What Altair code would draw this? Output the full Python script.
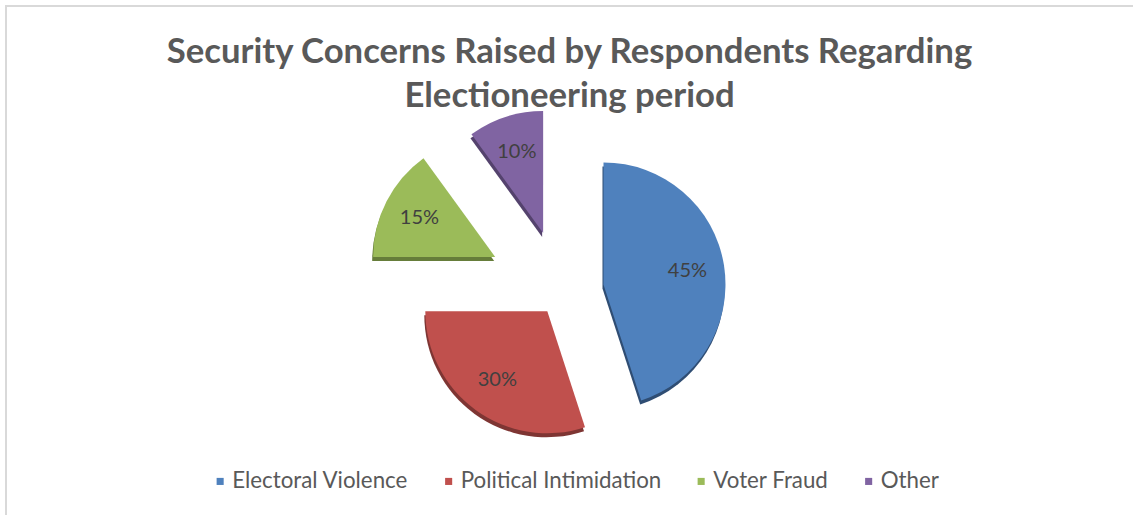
import math
import altair as alt
import pandas as pd

# ---- data ----
categories = ["Electoral Violence", "Political Intimidation", "Voter Fraud", "Other"]
shares = [45, 30, 15, 10]
pct_labels = ["45%", "30%", "15%", "10%"]
title_lines = ["Security Concerns Raised by Respondents Regarding", "Electioneering period"]

# ---- style ----
colors = ["#4F81BD", "#C0504D", "#9BBB59", "#8064A2"]
edge_colors = ["#2F4D73", "#7E3533", "#667D3A", "#54426D"]
explode = [42, 25, 75, 61]          # radial pull-out of each slice, px
CX, CY, R, LR = 562, 291, 122, 85   # pie centre, radius, label radius
W, H = 1133, 515
FONT = "Lato"

df = pd.DataFrame({
    "category": categories,
    "share": shares,
    "label": pct_labels,
    "order": list(range(len(categories))),
    "explode": explode,
})

base = (
    alt.Chart(df)
    .transform_joinaggregate(total="sum(share)")
    .transform_window(cum="sum(share)", sort=[alt.SortField("order")], frame=[None, 0])
    .transform_calculate(
        f0="(datum.cum - datum.share) / datum.total",
        f1="datum.cum / datum.total",
    )
    .transform_calculate(mid="(datum.f0 + datum.f1) * PI")
    .transform_calculate(
        px=f"{CX} + datum.explode * sin(datum.mid)",
        py=f"{CY} - datum.explode * cos(datum.mid)",
    )
    .transform_calculate(
        lx=f"datum.px + {LR} * sin(datum.mid)",
        ly=f"datum.py - {LR} * cos(datum.mid)",
    )
)

theta_scale = alt.Scale(domain=[0, 1], range=[0, 2 * math.pi])
xenc = alt.X("px:Q", scale=None, axis=None)
yenc = alt.Y("py:Q", scale=None, axis=None)

shadow = base.mark_arc(radius=R, xOffset=-1, yOffset=4).encode(
    x=xenc,
    y=yenc,
    theta=alt.Theta("f0:Q", scale=theta_scale),
    theta2="f1:Q",
    color=alt.Color("category:N", scale=alt.Scale(domain=categories, range=edge_colors), legend=None),
)

slices = base.mark_arc(radius=R).encode(
    x=xenc,
    y=yenc,
    theta=alt.Theta("f0:Q", scale=theta_scale),
    theta2="f1:Q",
    color=alt.Color(
        "category:N",
        scale=alt.Scale(domain=categories, range=colors),
        legend=alt.Legend(
            orient="none",
            legendX=209,
            legendY=470,
            direction="horizontal",
            columns=4,
            title=None,
            symbolType="square",
            symbolSize=50,
            symbolStrokeWidth=0,
            labelFont=FONT,
            labelFontSize=22.3,
            labelColor="#595959",
            labelOffset=1,
            columnPadding=28.5,
            labelLimit=400,
        ),
    ),
)

texts = base.mark_text(font=FONT, fontSize=20, color="#404040").encode(
    x=alt.X("lx:Q", scale=None, axis=None),
    y=alt.Y("ly:Q", scale=None, axis=None),
    text="label:N",
)

one = pd.DataFrame({"k": [0]})
border_top = alt.Chart(one).mark_rule(color="#D9D9D9", strokeWidth=2).encode(
    x=alt.value(5), x2=alt.value(W), y=alt.value(6)
)
border_left = alt.Chart(one).mark_rule(color="#D9D9D9", strokeWidth=2).encode(
    x=alt.value(6), y=alt.value(5), y2=alt.value(H)
)

chart = (
    alt.layer(border_top, border_left, shadow, slices, texts)
    .resolve_scale(color="independent")
    .properties(
        width=W,
        height=H,
        padding=0,
        autosize=alt.AutoSizeParams(type="none"),
        title=alt.TitleParams(
            text=title_lines,
            font=FONT,
            fontSize=34.7,
            fontWeight="bold",
            color="#595959",
            anchor="middle",
            lineHeight=44,
            offset=-115,
            dx=3,
        ),
    )
    .configure_view(stroke=None)
)

chart.save("out.html", embed_options={"renderer": "svg", "actions": False})
